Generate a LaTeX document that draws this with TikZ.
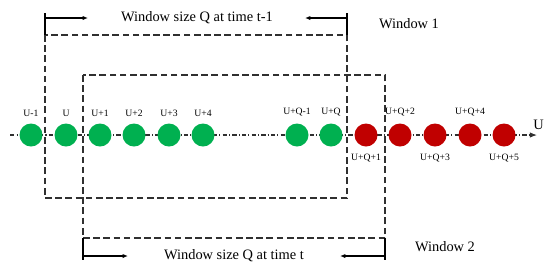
\documentclass[tikz,border=0pt]{standalone}
\usepackage{fontspec}
\setmainfont{Liberation Serif}
\usetikzlibrary{arrows.meta, positioning}
\definecolor{DotGreen}{HTML}{00B050}
\definecolor{DotRed}{HTML}{C00000}
\definecolor{LineGray}{HTML}{303030}
\tikzset{
    % Sample styles
    greendot/.style={
        circle,
        fill=DotGreen,
        minimum size=0.46cm,
        inner sep=0pt
    },
    reddot/.style={
        circle,
        fill=DotRed,
        minimum size=0.46cm,
        inner sep=0pt
    },
    dotlabel/.style={
        inner sep=0.5pt,
        font=\fontsize{5.5}{6}\selectfont
    },
    % Window styles
    windowbox/.style={
        draw=LineGray,
        line width=0.6pt,
        dash pattern=on 3.8pt off 2pt
    },
    bracketline/.style={
        draw=black,
        line width=0.6pt
    },
    sizearrow/.style={
        ->,
        >={Latex[length=3pt,width=2.4pt]},
        line width=0.6pt,
        black
    },
    axisline/.style={
        ->,
        >={Latex[length=4pt,width=3pt]},
        draw=LineGray,
        line width=0.6pt,
        dash pattern=on 2.5pt off 1.2pt on 0.6pt off 1.2pt
    },
    wintext/.style={
        inner sep=0pt,
        font=\fontsize{8.2}{9}\selectfont
    }
}

\begin{document}
\begin{tikzpicture}[x=0.02cm, y=-0.02cm]
    \useasboundingbox (0,0) rectangle (550,275);

    % Time axis
    \coordinate (axstart) at (10,135);
    \coordinate (axend) at (537,135);
    \draw[axisline] (axstart) -- (axend);
    \node[wintext, anchor=south west] (axname) at (533,130) {U};

    % Window 1 (time t-1)
    \coordinate (wa1) at (45,35);
    \coordinate (wa2) at (347,198);
    \draw[windowbox] (wa1) rectangle (wa2);
    \coordinate (wa1top) at (45,13);
    \coordinate (wa2top) at (347,13);
    \draw[bracketline] (wa1top) -- (wa1);
    \draw[bracketline] (wa2top) -- (wa2 |- wa1);
    \coordinate (wa1arr) at (45,18);
    \coordinate (wa1tip) at (88,18);
    \coordinate (wa2arr) at (347,18);
    \coordinate (wa2tip) at (305,18);
    \draw[sizearrow] (wa1arr) -- (wa1tip);
    \draw[sizearrow] (wa2arr) -- (wa2tip);
    \node[wintext] (sizea) at (197,18) {Window size Q at time t-1};
    \node[wintext] (wina) at (409,24) {Window 1};

    % Window 2 (time t)
    \coordinate (wb1) at (83,75);
    \coordinate (wb2) at (385,238);
    \draw[windowbox] (wb1) rectangle (wb2);
    \coordinate (wb1bot) at (83,260);
    \coordinate (wb2bot) at (385,260);
    \draw[bracketline] (wb1 |- wb2) -- (wb1bot);
    \draw[bracketline] (wb2) -- (wb2bot);
    \coordinate (wb1arr) at (83,256);
    \coordinate (wb1tip) at (128,256);
    \coordinate (wb2arr) at (385,256);
    \coordinate (wb2tip) at (340,256);
    \draw[sizearrow] (wb1arr) -- (wb1tip);
    \draw[sizearrow] (wb2arr) -- (wb2tip);
    \node[wintext] (sizeb) at (234,256) {Window size Q at time t};
    \node[wintext] (winb) at (445,247) {Window 2};

    % Samples inside the windows
    \node[greendot] (um1) at (31,135) {};
    \node[greendot] (u0) at (66,135) {};
    \node[greendot] (up1) at (100,135) {};
    \node[greendot] (up2) at (134,135) {};
    \node[greendot] (up3) at (169,135) {};
    \node[greendot] (up4) at (203,135) {};
    \node[greendot] (uqm1) at (297,135) {};
    \node[greendot] (uq) at (331,135) {};

    % Samples after the windows
    \node[reddot] (uq1) at (366,135) {};
    \node[reddot] (uq2) at (400,135) {};
    \node[reddot] (uq3) at (435,135) {};
    \node[reddot] (uq4) at (470,135) {};
    \node[reddot] (uq5) at (504,135) {};

    % Sample labels
    \node[dotlabel, above=0.11cm of um1] {U-1};
    \node[dotlabel, above=0.11cm of u0] {U};
    \node[dotlabel, above=0.11cm of up1] {U+1};
    \node[dotlabel, above=0.11cm of up2] {U+2};
    \node[dotlabel, above=0.11cm of up3] {U+3};
    \node[dotlabel, above=0.11cm of up4] {U+4};
    \node[dotlabel, above=0.11cm of uqm1] {U+Q-1};
    \node[dotlabel, above=0.11cm of uq] {U+Q};
    \node[dotlabel, below=0.13cm of uq1] {U+Q+1};
    \node[dotlabel, above=0.11cm of uq2] {U+Q+2};
    \node[dotlabel, below=0.13cm of uq3] {U+Q+3};
    \node[dotlabel, above=0.11cm of uq4] {U+Q+4};
    \node[dotlabel, below=0.13cm of uq5] {U+Q+5};
\end{tikzpicture}
\end{document}
